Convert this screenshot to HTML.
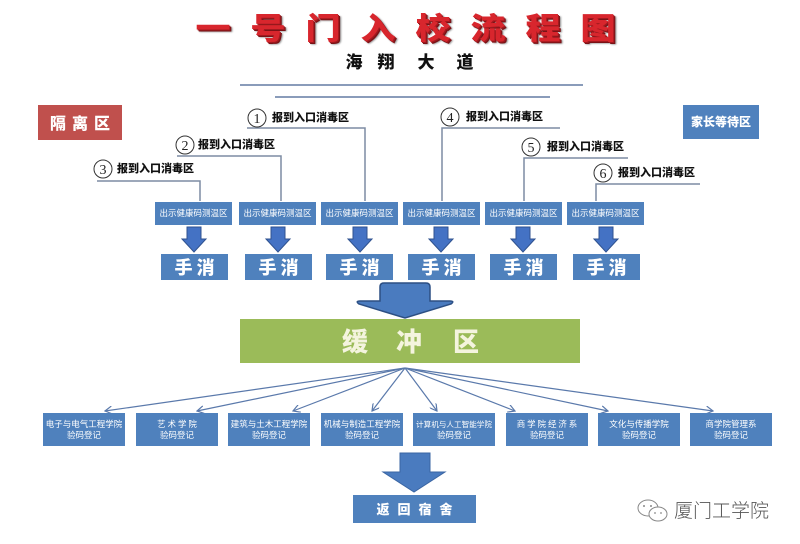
<!DOCTYPE html>
<html><head><meta charset="utf-8">
<style>
html,body{margin:0;padding:0;background:#fff;}
#c{position:relative;width:800px;height:544px;overflow:hidden;background:#fff;font-family:"Liberation Sans","Noto Sans CJK SC",sans-serif;}
.a{position:absolute;}
.title span{position:absolute;top:9px;width:56px;text-align:center;font-size:35px;line-height:36px;font-weight:900;color:#d8262d;text-shadow:1px 1px 0 #a01a1f,2px 2px 0 #7a1216,3px 3px 2px rgba(0,0,0,0.45);font-family:"Noto Sans CJK SC",sans-serif;transform:scaleY(0.86);}
.road span{position:absolute;top:52px;width:30px;text-align:center;font-size:17px;line-height:18px;font-weight:900;color:#111;font-family:"Noto Sans CJK SC",sans-serif;}
.sm{position:absolute;top:202px;width:77px;height:23px;background:#4f81bd;color:#fff;font-size:8.5px;line-height:23px;text-align:center;font-family:"Noto Sans CJK SC",sans-serif;white-space:nowrap;}
.hx{position:absolute;top:254px;width:67px;height:26px;background:#4f81bd;color:#fff;font-size:18px;line-height:26px;text-align:center;font-weight:900;letter-spacing:4px;text-indent:4px;font-family:"Noto Sans CJK SC",sans-serif;}
.col{position:absolute;top:413px;width:82px;height:33px;background:#4f81bd;color:#fff;font-size:8.5px;line-height:11px;text-align:center;font-family:"Noto Sans CJK SC",sans-serif;white-space:nowrap;box-sizing:border-box;padding-top:6px;}
.lbl{position:absolute;font-size:11px;line-height:12px;font-weight:900;color:#111;font-family:"Noto Sans CJK SC",sans-serif;white-space:nowrap;}
</style></head><body>
<div id="c">
<svg class="a" style="left:0;top:0" width="800" height="544" viewBox="0 0 800 544">
<defs>
<marker id="ah" markerWidth="8" markerHeight="8" refX="7" refY="4" orient="auto" markerUnits="userSpaceOnUse">
<path d="M0,0 L7,4 L0,8" fill="none" stroke="#5a79ab" stroke-width="1.2"/>
</marker>
</defs>
<line x1="240" y1="85" x2="583" y2="85" stroke="#8a9cba" stroke-width="2"/>
<line x1="275" y1="97" x2="550" y2="97" stroke="#8a9cba" stroke-width="2"/>
<g fill="none" stroke="#7d8ca3" stroke-width="1.5">
<path d="M247 128 H365 V201"/>
<path d="M177 156 H281 V201"/>
<path d="M97 181 H200 V201"/>
<path d="M560 128 H442 V201"/>
<path d="M628 158 H524 V201"/>
<path d="M700 184 H596 V201"/>
</g>
<g fill="none" stroke="#333" stroke-width="1">
<circle cx="257" cy="118" r="9"/>
<circle cx="185" cy="145" r="9"/>
<circle cx="103" cy="169" r="9"/>
<circle cx="450" cy="117" r="9"/>
<circle cx="531" cy="147" r="9"/>
<circle cx="603" cy="173" r="9"/>
</g>
<g font-family="Liberation Serif, serif" font-size="14" fill="#222" text-anchor="middle">
<text x="257" y="123">1</text>
<text x="185" y="150">2</text>
<text x="103" y="174">3</text>
<text x="450" y="122">4</text>
<text x="531" y="152">5</text>
<text x="603" y="178">6</text>
</g>
<g fill="#4472c4" stroke="#2f528f" stroke-width="1">
<polygon points="187,227 201,227 201,239 206,239 194,252 182,239 187,239"/>
<polygon points="271,227 285,227 285,239 290,239 278,252 266,239 271,239"/>
<polygon points="353,227 367,227 367,239 372,239 360,252 348,239 353,239"/>
<polygon points="434,227 448,227 448,239 453,239 441,252 429,239 434,239"/>
<polygon points="516,227 530,227 530,239 535,239 523,252 511,239 516,239"/>
<polygon points="599,227 613,227 613,239 618,239 606,252 594,239 599,239"/>
</g>
<path d="M384 283 H426 Q430 283 430 287 V301 H450 Q455 301 451 304 L405 318 L359 304 Q355 301 360 301 H380 V287 Q380 283 384 283 Z" fill="#4a7bbf" stroke="#2c4f84" stroke-width="1.5"/>
<g stroke="#5a79ab" stroke-width="1.2" fill="none" marker-end="url(#ah)">
<line x1="405" y1="368" x2="105" y2="411"/>
<line x1="405" y1="368" x2="197" y2="411"/>
<line x1="405" y1="368" x2="293" y2="411"/>
<line x1="405" y1="368" x2="372" y2="411"/>
<line x1="405" y1="368" x2="437" y2="411"/>
<line x1="405" y1="368" x2="515" y2="411"/>
<line x1="405" y1="368" x2="608" y2="411"/>
<line x1="405" y1="368" x2="713" y2="411"/>
</g>
<polygon points="400,453 430,453 430,472 445,472 414,492 383,472 400,472" fill="#4a7bbf" stroke="#3a65a3" stroke-width="1"/>
<g fill="none" stroke="#888" stroke-width="1">
<ellipse cx="648" cy="508" rx="10" ry="8"/>
<ellipse cx="658" cy="514" rx="9" ry="7" fill="#fff"/>
</g>
<g fill="#888"><circle cx="644" cy="506" r="1"/><circle cx="651" cy="506" r="1"/><circle cx="655" cy="513" r="0.9"/><circle cx="661" cy="513" r="0.9"/></g>
</svg>

<div class="title">
<span style="left:185px">一</span><span style="left:240px">号</span><span style="left:295px">门</span><span style="left:350px">入</span><span style="left:405px">校</span><span style="left:460px">流</span><span style="left:515px">程</span><span style="left:570px">图</span>
</div>
<div class="road">
<span style="left:339px">海</span><span style="left:371px">翔</span><span style="left:411px">大</span><span style="left:450px">道</span>
</div>

<div class="a" style="left:38px;top:105px;width:84px;height:35px;background:#c0504d;color:#fff;font-size:16px;line-height:35px;text-align:center;font-weight:900;letter-spacing:6px;text-indent:6px;font-family:'Noto Sans CJK SC',sans-serif;">隔离区</div>
<div class="a" style="left:683px;top:105px;width:76px;height:34px;background:#4f81bd;color:#fff;font-size:12px;line-height:34px;text-align:center;font-weight:900;font-family:'Noto Sans CJK SC',sans-serif;">家长等待区</div>

<div class="lbl" style="left:272px;top:111px">报到入口消毒区</div>
<div class="lbl" style="left:198px;top:138px">报到入口消毒区</div>
<div class="lbl" style="left:117px;top:162px">报到入口消毒区</div>
<div class="lbl" style="left:466px;top:110px">报到入口消毒区</div>
<div class="lbl" style="left:547px;top:140px">报到入口消毒区</div>
<div class="lbl" style="left:618px;top:166px">报到入口消毒区</div>

<div class="sm" style="left:155px">出示健康码测温区</div>
<div class="sm" style="left:239px">出示健康码测温区</div>
<div class="sm" style="left:321px">出示健康码测温区</div>
<div class="sm" style="left:403px">出示健康码测温区</div>
<div class="sm" style="left:485px">出示健康码测温区</div>
<div class="sm" style="left:567px">出示健康码测温区</div>

<div class="hx" style="left:161px">手消</div>
<div class="hx" style="left:245px">手消</div>
<div class="hx" style="left:326px">手消</div>
<div class="hx" style="left:408px">手消</div>
<div class="hx" style="left:490px">手消</div>
<div class="hx" style="left:573px">手消</div>

<div class="a" style="left:240px;top:319px;width:340px;height:44px;background:#9bbb59;"></div>
<div class="a" style="left:341px;top:327px;width:28px;font-size:26px;line-height:28px;font-weight:900;color:#f4f4de;text-align:center;font-family:'Noto Sans CJK SC',sans-serif;">缓</div>
<div class="a" style="left:395px;top:327px;width:28px;font-size:26px;line-height:28px;font-weight:900;color:#f4f4de;text-align:center;font-family:'Noto Sans CJK SC',sans-serif;">冲</div>
<div class="a" style="left:452px;top:327px;width:28px;font-size:26px;line-height:28px;font-weight:900;color:#f4f4de;text-align:center;font-family:'Noto Sans CJK SC',sans-serif;">区</div>

<div class="col" style="left:43px">电子与电气工程学院<br>验码登记</div>
<div class="col" style="left:136px">艺 术 学 院<br>验码登记</div>
<div class="col" style="left:228px">建筑与土木工程学院<br>验码登记</div>
<div class="col" style="left:321px">机械与制造工程学院<br>验码登记</div>
<div class="col" style="left:413px;font-size:7.6px">计算机与人工智能学院<br><span style="font-size:8.5px">验码登记</span></div>
<div class="col" style="left:506px">商 学 院 经 济 系<br>验码登记</div>
<div class="col" style="left:598px">文化与传播学院<br>验码登记</div>
<div class="col" style="left:690px">商学院管理系<br>验码登记</div>

<div class="a" style="left:353px;top:495px;width:123px;height:28px;background:#4f81bd;color:#fff;font-size:13px;line-height:28px;text-align:center;font-weight:900;letter-spacing:8px;text-indent:8px;font-family:'Noto Sans CJK SC',sans-serif;">返回宿舍</div>

<div class="a" style="left:674px;top:499px;font-size:19px;line-height:22px;color:#555;font-weight:300;font-family:'Noto Sans CJK SC',sans-serif;white-space:nowrap;">厦门工学院</div>
</div>
</body></html>
